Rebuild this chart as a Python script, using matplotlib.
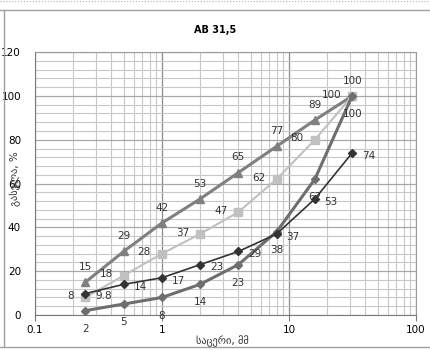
import matplotlib
matplotlib.use("Agg")
import matplotlib.pyplot as plt
from matplotlib.ticker import LogLocator, MultipleLocator, FixedLocator, FixedFormatter
from matplotlib.lines import Line2D

# sieve sizes, mm
sieves = [0.25, 0.5, 1, 2, 4, 8, 16, 31.5]

# passing, %
upper = [15, 29, 42, 53, 65, 77, 89, 100]
middle = [8, 18, 28, 37, 47, 62, 80, 100]
mix = [9.8, 14, 17, 23, 29, 37, 53, 74]
lower = [2, 5, 8, 14, 23, 38, 62, 100]

title = "AB 31,5"
xlabel = "საცერი, მმ"
ylabel = "გასვლა, %"

fig = plt.figure(figsize=(4.31, 3.5), dpi=100)
ax = fig.add_axes([0.081, 0.1, 0.884, 0.751])

ax.set_xscale("log")
ax.set_xlim(0.1, 100)
ax.set_ylim(0, 120)

ax.xaxis.set_major_locator(FixedLocator([0.1, 1, 10, 100]))
ax.xaxis.set_major_formatter(FixedFormatter(["0.1", "1", "10", "100"]))
ax.xaxis.set_minor_locator(LogLocator(base=10, subs=range(2, 10)))
ax.xaxis.set_minor_formatter(FixedFormatter([]))
ax.yaxis.set_major_locator(MultipleLocator(20))
ax.yaxis.set_minor_locator(MultipleLocator(4))

ax.grid(which="minor", color="#c8c8c8", linewidth=0.8)
ax.grid(which="major", axis="y", color="#a8a8a8", linewidth=0.9)
ax.grid(which="major", axis="x", color="#8c8c8c", linewidth=0.9)
ax.set_axisbelow(True)

for s in ax.spines.values():
    s.set_color("#9a9a9a")
    s.set_linewidth(0.8)
ax.spines["left"].set_color("#7a7a7a")
ax.spines["bottom"].set_color("#7a7a7a")

ax.tick_params(axis="x", which="major", length=4, color="#7a7a7a", labelsize=7.5, pad=3)
ax.tick_params(axis="x", which="minor", length=0)
ax.tick_params(axis="y", which="both", length=0, labelsize=7.5, pad=10)

ax.plot(sieves, upper, color="#808080", lw=2.2, marker="^", ms=6, zorder=3)
ax.plot(sieves, middle, color="#c0c0c0", lw=1.5, marker="s", ms=6, zorder=3)
ax.plot(sieves, lower, color="#6e6e6e", lw=2.2, marker="D", ms=4.5, zorder=3)
ax.plot(sieves, mix, color="#333333", lw=1.2, marker="D", ms=4.5, zorder=4)

fs = 7.5
tc = "#333333"
for x, v in zip(sieves, upper):
    ax.annotate(f"{v:g}", (x, v), xytext=(0, 11), textcoords="offset points",
                ha="center", va="center", fontsize=fs, color=tc)
for x, v in zip(sieves, middle):
    ax.annotate(f"{v:g}", (x, v), xytext=(-8, 1), textcoords="offset points",
                ha="right", va="center", fontsize=fs, color=tc)
for x, v in zip(sieves, mix):
    ax.annotate(f"{v:g}", (x, v), xytext=(7, -2), textcoords="offset points",
                ha="left", va="center", fontsize=fs, color=tc)
for x, v in zip(sieves, lower):
    ax.annotate(f"{v:g}", (x, v), xytext=(0, -13), textcoords="offset points",
                ha="center", va="center", fontsize=fs, color=tc, annotation_clip=False)

fig.text(0.5, 0.914, title, ha="center", va="center", fontsize=7, fontweight="bold")
fig.text(0.517, 0.026, xlabel, ha="center", va="center", fontsize=7.5, color=tc)
fig.text(0.036, 0.49, ylabel, ha="center", va="center", rotation=90, fontsize=7.5, color=tc)

# sheet frame around the chart
fig.add_artist(Line2D([0, 1], [0.971, 0.971], transform=fig.transFigure, color="#a0a0a0", lw=1))
fig.add_artist(Line2D([0, 1], [0.997, 0.997], transform=fig.transFigure, color="#b0b0b0", lw=0.8, ls=":"))
fig.add_artist(Line2D([0, 1], [0.009, 0.009], transform=fig.transFigure, color="#a0a0a0", lw=1))
fig.add_artist(Line2D([0.009, 0.009], [0.009, 0.971], transform=fig.transFigure, color="#a0a0a0", lw=1))

fig.savefig("out.png", dpi=100)
